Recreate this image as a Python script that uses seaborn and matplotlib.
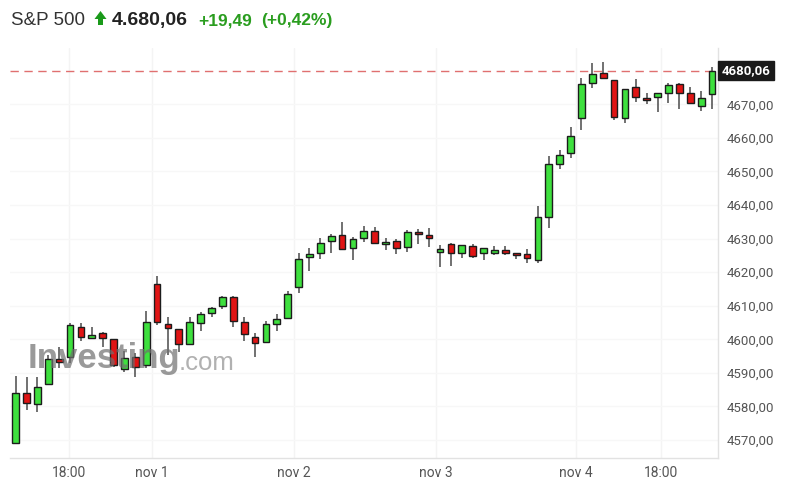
import matplotlib
matplotlib.use("Agg")
import matplotlib.pyplot as plt
import seaborn as sns
import numpy as np
import pandas as pd
from matplotlib.ticker import FuncFormatter, FixedLocator
from matplotlib.patches import Polygon

# ---- data ----
opens = [4569.0, 4584.1, 4580.6, 4586.6, 4594.1, 4594.8, 4603.8, 4600.3, 4602.0, 4600.1,
         4591.1, 4594.8, 4592.3, 4616.5, 4604.5, 4603.0, 4598.5, 4604.8, 4607.7, 4610.0,
         4612.7, 4605.2, 4600.8, 4599.2, 4604.5, 4606.3, 4615.7, 4624.6, 4625.6, 4629.4,
         4631.1, 4627.1, 4630.1, 4632.3, 4628.3, 4629.4, 4627.6, 4632.0, 4631.1, 4626.0,
         4628.4, 4625.6, 4627.8, 4625.6, 4625.6, 4626.6, 4625.8, 4625.4, 4623.5, 4636.4,
         4652.1, 4655.4, 4665.8, 4676.3, 4679.2, 4677.1, 4665.8, 4675.2, 4672.0, 4672.2,
         4673.3, 4676.0, 4673.5, 4669.6, 4673.0]
highs = [4589.1, 4588.8, 4588.8, 4595.3, 4597.8, 4604.9, 4604.9, 4603.8, 4602.3, 4600.1,
         4596.5, 4595.9, 4608.4, 4618.9, 4606.7, 4603.1, 4606.6, 4608.2, 4609.7, 4612.9,
         4612.9, 4606.6, 4601.8, 4605.5, 4607.5, 4614.5, 4625.6, 4627.1, 4630.1, 4631.4,
         4634.9, 4630.4, 4633.8, 4633.4, 4630.1, 4629.8, 4632.6, 4632.8, 4633.1, 4628.1,
         4628.6, 4628.1, 4628.3, 4627.3, 4627.8, 4627.9, 4625.8, 4626.8, 4639.7, 4654.7,
         4656.4, 4663.3, 4677.7, 4682.2, 4682.5, 4677.1, 4674.6, 4677.5, 4673.3, 4673.4,
         4676.3, 4676.3, 4675.1, 4674.0, 4681.0]
lows = [4568.8, 4578.9, 4578.4, 4586.4, 4591.4, 4592.9, 4599.5, 4600.1, 4597.8, 4591.8,
        4590.3, 4588.9, 4591.4, 4604.3, 4595.3, 4596.3, 4598.5, 4602.6, 4606.6, 4608.9,
        4603.6, 4599.6, 4594.8, 4599.0, 4602.6, 4606.3, 4613.9, 4620.4, 4623.8, 4625.8,
        4626.8, 4623.6, 4629.1, 4628.6, 4626.6, 4625.4, 4626.1, 4628.4, 4627.4, 4621.4,
        4621.8, 4624.3, 4624.3, 4623.6, 4625.1, 4625.1, 4623.8, 4622.8, 4622.6, 4633.2,
        4650.7, 4654.1, 4662.3, 4674.9, 4677.7, 4665.2, 4664.4, 4670.8, 4670.0, 4667.8,
        4670.3, 4668.6, 4670.3, 4668.1, 4668.6]
closes = [4584.1, 4580.9, 4585.9, 4594.1, 4593.2, 4604.3, 4600.8, 4601.3, 4600.3, 4592.3,
          4594.3, 4591.8, 4605.2, 4605.2, 4603.3, 4598.5, 4605.2, 4607.4, 4609.4, 4612.7,
          4605.5, 4601.5, 4598.8, 4604.5, 4606.0, 4613.5, 4623.8, 4625.5, 4628.8, 4630.8,
          4626.8, 4629.8, 4632.3, 4628.6, 4629.1, 4627.1, 4632.0, 4631.3, 4630.1, 4626.8,
          4625.6, 4628.1, 4624.9, 4627.3, 4626.6, 4625.6, 4625.1, 4624.1, 4636.3, 4652.1,
          4654.9, 4660.6, 4676.0, 4679.0, 4677.7, 4666.2, 4674.6, 4672.2, 4671.2, 4673.4,
          4675.7, 4673.3, 4670.3, 4672.0, 4680.06]

x_tick_pos = [4.9, 12.5, 25.6, 38.6, 51.5, 59.3]
x_tick_labels = ["18:00", "nov 1", "nov 2", "nov 3", "nov 4", "18:00"]
y_ticks = [4570, 4580, 4590, 4600, 4610, 4620, 4630, 4640, 4650, 4660, 4670]

last_price = 4680.06
title_name = "S&P 500"
title_price = "4.680,06"
title_change = "+19,49"
title_pct = "(+0,42%)"

df = pd.DataFrame({"open": opens, "high": highs, "low": lows, "close": closes})
df["idx"] = np.arange(len(df))
df["up"] = df["close"] >= df["open"]

# ---- style ----
sns.set_theme(style="white")
plt.rcParams["font.family"] = ["Liberation Sans", "DejaVu Sans"]

W, H = 789, 496
fig = plt.figure(figsize=(W / 100, H / 100), dpi=100)
ax = fig.add_axes([10 / W, 1 - 458 / H, (718 - 10) / W, (458 - 48) / H])

green = "#3ee03e"
red = "#e01414"
edge = "#1c1c1c"
wick = "#4a4a4a"
body_w = 0.62

# grid (very faint)
for xp in x_tick_pos:
    ax.axvline(xp, color="#f4f4f4", lw=1, zorder=0)
for yp in y_ticks:
    ax.axhline(yp, color="#f7f7f7", lw=1, zorder=0)

# wicks
ax.vlines(df["idx"], df["low"], df["high"], color=wick, lw=1.1, zorder=2)
# bodies
bottoms = np.minimum(df["open"], df["close"])
heights = np.maximum(np.abs(df["close"] - df["open"]), 0.35)
colors = np.where(df["up"], green, red)
ax.bar(df["idx"], heights, bottom=bottoms, width=body_w, color=colors,
       edgecolor=edge, linewidth=1.0, zorder=3)

# last price dashed line
ax.axhline(last_price, color="#e07070", lw=1, ls=(0, (6, 4)), zorder=1)

ax.set_xlim(-0.52, 64.55)
ax.set_ylim(4564.64, 4686.77)

ax.yaxis.tick_right()
ax.yaxis.set_major_locator(FixedLocator(y_ticks))
ax.yaxis.set_major_formatter(FuncFormatter(lambda v, p: f"{v:.2f}".replace(".", ",")))
ax.tick_params(axis="y", which="both", right=True, left=False, length=3, width=0.8,
               color="#dddddd", pad=3, labelsize=9.5, labelcolor="#555555")
for lab in ax.get_yticklabels():
    lab.set_fontfamily(["Roboto", "DejaVu Sans"])

ax.set_xticks(x_tick_pos)
ax.set_xticklabels(x_tick_labels)
ax.tick_params(axis="x", bottom=False, length=0, pad=6, labelsize=10, labelcolor="#555555")
for lab in ax.get_xticklabels():
    lab.set_fontfamily(["Roboto", "DejaVu Sans"])

sns.despine(ax=ax, left=True, top=True, right=False, bottom=False)
ax.spines["right"].set_color("#e2e2e2")
ax.spines["bottom"].set_color("#e2e2e2")
ax.spines["right"].set_linewidth(1)
ax.spines["bottom"].set_linewidth(1)

# last price label box
ax.text(1.005, last_price, f"{last_price:.2f}".replace(".", ","), transform=ax.get_yaxis_transform(),
        ha="left", va="center", fontsize=9.5, fontweight="bold", color="white",
        family=["Roboto", "DejaVu Sans"],
        bbox=dict(boxstyle="square,pad=0.25", fc="#1a1a1a", ec="#1a1a1a"), zorder=10, clip_on=False)

# watermark
ax.text(0.025, 0.22, "Investing", transform=ax.transAxes, fontsize=25, fontweight="bold",
        color="#6f6f6f", alpha=0.7, ha="left", va="baseline", zorder=5)
ax.text(0.238, 0.215, ".com", transform=ax.transAxes, fontsize=18.5,
        color="#909090", alpha=0.7, ha="left", va="baseline", zorder=5)

# header
ty = 1 - 25 / H
fig.text(11 / W, ty, title_name, fontsize=13.5, color="#333333", ha="left", va="baseline")
arrow = Polygon([(94.5 / W, 1 - 19 / H), (100.5 / W, 1 - 11 / H), (106.5 / W, 1 - 19 / H),
                 (103 / W, 1 - 19 / H), (103 / W, 1 - 25 / H), (98 / W, 1 - 25 / H),
                 (98 / W, 1 - 19 / H)], closed=True, transform=fig.transFigure,
                fc="#1a9a1a", ec="none")
fig.patches.append(arrow)
fig.text(112 / W, ty, title_price, fontsize=14, fontweight="bold", color="#222222", ha="left", va="baseline")
fig.text(198 / W, ty, title_change, fontsize=12.5, fontweight="bold", color="#2a9d1f", ha="left", va="baseline")
fig.text(261 / W, ty, title_pct, fontsize=12.5, fontweight="bold", color="#2a9d1f", ha="left", va="baseline")

fig.savefig("out.png", dpi=100, facecolor="white")
